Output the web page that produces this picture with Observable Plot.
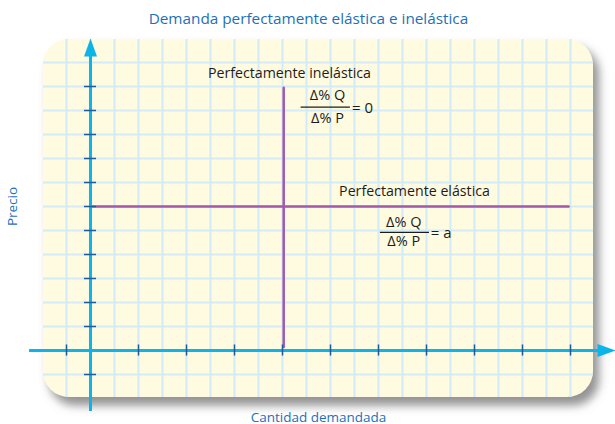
<!DOCTYPE html>
<html><head><meta charset="utf-8">
<script src="https://cdn.jsdelivr.net/npm/d3@7"></script>
<script src="https://cdn.jsdelivr.net/npm/@observablehq/plot@0.6"></script>
<style>body{margin:0;background:#fff;overflow:hidden}</style>
</head><body><div id="chart"></div>
<script>
// ---- text ----
const title = "Demanda perfectamente elástica e inelástica";
const xLabel = "Cantidad demandada";
const yLabel = "Precio";
const curveLabels = ["Perfectamente inelástica", "Perfectamente elástica"];
const numerators = ["Δ% Q", "Δ% Q"];
const denominators = ["Δ% P", "Δ% P"];
const results = ["= 0", "= a"];

// ---- grid & ticks (grid units) ----
const gridX = [-1,0,1,2,3,4,5,6,7,8,9,10,11,12,13,14,15,16,17,18,19,20];
const gridY = [-1,0,1,2,3,4,5,6,7,8,9,10,11,12];
const xTicks = [-1,2,4,6,8,10,12,14,16,18,20];
const yTicks = [-1,1,2,3,4,5,6,7,8,9,10,11];

// ---- demand curves ----
const inelasticQ = [8.05, 8.05];
const inelasticP = [0.15, 10.95];
const elasticQ = [0.05, 19.92];
const elasticP = [6, 6];

// ---- layout (grid units; 1 unit = 24px, origin at pixel 90,350) ----
const W = 615, H = 424, U = 24, OX = 90, OY = 350;
const xDomain = [-OX / U, (W - OX) / U];
const yDomain = [(OY - H) / U, OY / U];
const panel = {x1: -1.96, x2: 20.96, y1: -1.96, y2: 12.96};
const xAxisExt = [-2.54, 21.2];
const yAxisExt = [-2.54, 12.3];
const xArrowTip = 21.875, yArrowTip = 13.0;

const inelastic = inelasticQ.map((q, i) => ({q, p: inelasticP[i]}));
const elastic = elasticQ.map((q, i) => ({q, p: elasticP[i]}));

const labelPos = [{x: 8.29, y: 11.54}, {x: 13.5, y: 6.625}];
const fracPos = [
  {x: 9.875, yn: 10.62, yb: 10.14, bx1: 8.775, bx2: 10.83, yd: 9.69, xr: 10.9, yr: 10.08},
  {x: 13.05, yn: 5.33, yb: 4.92, bx1: 12.08, bx2: 14.125, yd: 4.56, xr: 14.18, yr: 4.88}
];

const arrowSymbol = {
  draw(ctx) {
    ctx.moveTo(0, 0);
    ctx.lineTo(6.5, 18);
    ctx.lineTo(-6.5, 18);
    ctx.closePath();
  }
};

const font = "'Open Sans', sans-serif";
const blue = "#1d70b8";
const axisColor = "#0db4ea";
const tickColor = "#1f5a9e";
const purple = "#a259ab";
const grid = "#d2ebf6";
const ink = "#1e1b1c";

const chart = Plot.plot({
  width: W, height: H,
  margin: 0,
  x: {domain: xDomain, axis: null},
  y: {domain: yDomain, axis: null},
  style: {fontFamily: font, background: "#fff", overflow: "visible"},
  marks: [
    // shadow
    Plot.rect([panel], {x1: d => d.x1 + 0.25, x2: d => d.x2 + 0.25, y1: d => d.y1 - 0.35, y2: d => d.y2 - 0.33, rx: 26, fill: "#6f6f6f", fillOpacity: 0.75}),
    // panel
    Plot.rect([panel], {x1: "x1", x2: "x2", y1: "y1", y2: "y2", rx: 26, fill: "#fefbe0"}),
    // grid
    Plot.ruleX(gridX, {x: d => d, y1: panel.y1, y2: panel.y2, stroke: grid, strokeWidth: 2}),
    Plot.ruleY(gridY, {y: d => d, x1: panel.x1, x2: panel.x2, stroke: grid, strokeWidth: 2}),
    // curves
    Plot.line(inelastic, {x: "q", y: "p", stroke: purple, strokeWidth: 2.5}),
    Plot.line(elastic, {x: "q", y: "p", stroke: purple, strokeWidth: 2.5}),
    // axes
    Plot.ruleY([0], {x1: xAxisExt[0], x2: xAxisExt[1], stroke: axisColor, strokeWidth: 3}),
    Plot.ruleX([0], {y1: yAxisExt[0], y2: yAxisExt[1], stroke: axisColor, strokeWidth: 3}),
    Plot.dot([0], {x: xArrowTip, y: 0, symbol: arrowSymbol, fill: axisColor, stroke: "none", rotate: 90}),
    Plot.dot([0], {x: 0, y: yArrowTip, symbol: arrowSymbol, fill: axisColor, stroke: "none"}),
    // ticks
    Plot.ruleX(xTicks, {x: d => d, y1: -0.23, y2: 0.23, stroke: tickColor, strokeWidth: 1.5}),
    Plot.ruleY(yTicks, {y: d => d, x1: -0.25, x2: 0.25, stroke: tickColor, strokeWidth: 1.5}),
    // curve labels
    Plot.text(curveLabels, {x: (d, i) => labelPos[i].x, y: (d, i) => labelPos[i].y, text: d => d, fontSize: 14.2, fill: ink}),
    // fractions
    Plot.text(numerators, {x: (d, i) => fracPos[i].x, y: (d, i) => fracPos[i].yn, text: d => d, fontSize: 14.5, fill: ink}),
    Plot.text(denominators, {x: (d, i) => fracPos[i].x, y: (d, i) => fracPos[i].yd, text: d => d, fontSize: 14.5, fill: ink}),
    Plot.ruleY(fracPos, {y: "yb", x1: "bx1", x2: "bx2", stroke: ink, strokeWidth: 1.2}),
    Plot.text(results, {x: (d, i) => fracPos[i].xr, y: (d, i) => fracPos[i].yr, text: d => d, fontSize: 15, textAnchor: "start", fill: ink}),
    // titles
    Plot.text([title], {x: 9.08, y: 13.79, text: d => d, fontSize: 15.3, fill: blue}),
    Plot.text([yLabel], {x: -3.25, y: 6, text: d => d, fontSize: 13.5, rotate: -90, fill: blue}),
    Plot.text([xLabel], {x: 9.5, y: -2.78, text: d => d, fontSize: 13.5, fill: blue})
  ]
});

const svg = d3.select(chart);
svg.select("g[aria-label='rect']").attr("filter", "url(#shadowBlur)");
svg.insert("defs", ":first-child").html('<filter id="shadowBlur" x="-10%" y="-10%" width="120%" height="130%"><feGaussianBlur stdDeviation="5"/></filter>');
document.getElementById("chart").appendChild(chart);
</script>
</body></html>
